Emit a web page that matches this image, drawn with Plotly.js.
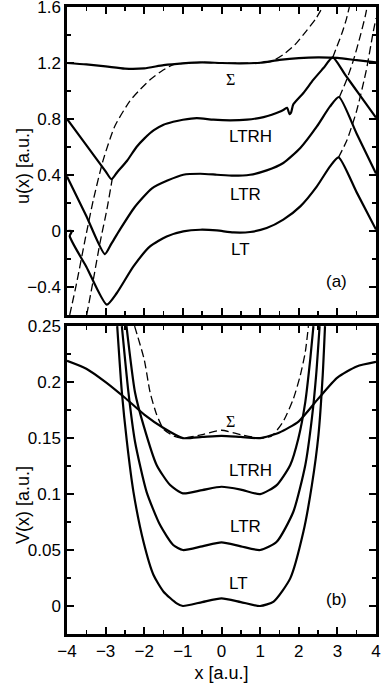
<!DOCTYPE html>
<html>
<head>
<meta charset="utf-8">
<script src="https://cdn.plot.ly/plotly-3.0.1.min.js"></script>
<style>
  html, body { margin: 0; padding: 0; background: #fff; }
  #wrap { position: relative; width: 382px; height: 683px; }
  .pa { position: absolute; left: 0; top: 0; width: 382px; height: 321px; }
  .pb { position: absolute; left: 0; top: 315px; width: 382px; height: 368px; }
</style>
</head>
<body>
<div id="wrap">
  <div id="panelA" class="pa"></div>
  <div id="panelB" class="pb"></div>
  <div id="frameA" class="pa"></div>
  <div id="frameB" class="pb"></div>
</div>
<script>
// ---- panel (a): u(x) ----
const uSigmaX = [-4, -3.5, -3, -2.5, -2, -1.5, -1, -0.5, 0, 0.5, 1, 1.5, 2, 2.5, 3, 3.5, 4];
const uSigmaY = [1.20, 1.19, 1.176, 1.16, 1.162, 1.185, 1.198, 1.205, 1.2, 1.198, 1.202, 1.222, 1.235, 1.24, 1.236, 1.22, 1.205];

const uSigmaDashX = [-3.93, -3.75, -3.53, -3.32, -3.06, -2.76, -2.37, -2.11, -1.85, -1.51, -1.25, -1.0, -0.5, 0, 0.5, 1.0, 1.3, 1.6, 1.9, 2.2, 2.45, 2.62];
const uSigmaDashY = [-0.6, -0.37, -0.06, 0.22, 0.51, 0.75, 0.93, 1.01, 1.08, 1.15, 1.188, 1.198, 1.205, 1.2, 1.198, 1.202, 1.212, 1.26, 1.33, 1.43, 1.52, 1.6];

const uLtrhX = [-4, -3.5, -3.0, -2.85, -2.7, -2.45, -2.2, -2.0, -1.75, -1.5, -1.25, -1.0, -0.64, -0.21, 0.22, 0.66, 1.09, 1.3, 1.52, 1.62, 1.7, 1.76, 1.8, 1.86, 2.12, 2.38, 2.64, 2.88, 3.2, 3.6, 4];
const uLtrhY = [0.8, 0.613, 0.426, 0.37, 0.42, 0.5, 0.6, 0.66, 0.72, 0.759, 0.78, 0.795, 0.807, 0.795, 0.79, 0.795, 0.814, 0.83, 0.854, 0.868, 0.88, 0.835, 0.845, 0.905, 0.986, 1.081, 1.164, 1.24, 1.117, 0.963, 0.81];

const uLtrX = [-4, -3.5, -3.02, -2.85, -2.63, -2.25, -1.8, -1.4, -0.99, -0.55, -0.12, 0.31, 0.74, 1.17, 1.6, 2.04, 2.47, 2.81, 3.04, 3.5, 4];
const uLtrY = [0.39, 0.107, -0.165, -0.09, 0.01, 0.17, 0.305, 0.36, 0.402, 0.409, 0.402, 0.395, 0.402, 0.433, 0.486, 0.593, 0.747, 0.89, 0.957, 0.695, 0.41];

const uLtX = [-4, -3.87, -3.93, -3.5, -2.97, -2.71, -2.28, -1.85, -1.42, -0.99, -0.55, -0.12, 0.31, 0.74, 1.17, 1.6, 2.04, 2.47, 2.81, 3.03, 3.5, 4];
const uLtY = [0, 0, -0.035, -0.255, -0.526, -0.443, -0.253, -0.11, -0.039, -0.003, 0.009, 0.004, -0.01, -0.007, 0.021, 0.081, 0.176, 0.319, 0.462, 0.526, 0.276, 0.01];

// dashed continuations of the cubic parts
const uLtrhDashLX = [-3.49, -3.32, -3.15, -2.97, -2.83];
const uLtrhDashLY = [-0.6, -0.35, -0.09, 0.15, 0.37];
const uLtrhDashRX = [2.88, 2.99, 3.12, 3.23, 3.31];
const uLtrhDashRY = [1.24, 1.319, 1.414, 1.51, 1.6];
const uLtrDashRX = [3.05, 3.24, 3.42, 3.59, 3.72, 3.77];
const uLtrDashRY = [0.955, 1.08, 1.224, 1.39, 1.533, 1.6];
const uLtDashRX = [3.03, 3.25, 3.5, 3.75, 3.92, 4];
const uLtDashRY = [0.526, 0.65, 0.86, 1.15, 1.41, 1.52];

// ---- panel (b): V(x) ----
const vSigmaX = [-4, -3.5, -3, -2.5, -2, -1.5, -1, -0.5, 0, 0.5, 1, 1.5, 2, 2.5, 3, 3.5, 4];
const vSigmaY = [0.219, 0.212, 0.2, 0.186, 0.171, 0.159, 0.150, 0.151, 0.152, 0.151, 0.150, 0.155, 0.165, 0.185, 0.204, 0.214, 0.218];

const vSigmaDashX = [-2.25, -2.0, -1.85, -1.68, -1.5, -1.25, -1.0, -0.5, 0, 0.5, 1.0, 1.3, 1.6, 1.86, 2.04, 2.17, 2.25];
const vSigmaDashY = [0.25, 0.22, 0.191, 0.171, 0.158, 0.152, 0.150, 0.153, 0.157, 0.153, 0.150, 0.152, 0.165, 0.185, 0.206, 0.227, 0.25];

const vLtX = [-2.70, -2.58, -2.45, -2.28, -2.02, -1.76, -1.5, -1.16, -1.0, -0.5, 0, 0.5, 1.0, 1.35, 1.78, 2.12, 2.34, 2.51, 2.62, 2.68];
const vLtY = [0.25, 0.191, 0.147, 0.102, 0.0574, 0.0277, 0.0128, 0.0024, 0, 0.0035, 0.0068, 0.0035, 0, 0.004, 0.0247, 0.0663, 0.108, 0.1527, 0.206, 0.25];

const vLtrX = [-2.58, -2.41, -2.24, -1.94, -1.59, -1.25, -1.0, -0.5, 0, 0.5, 1.0, 1.43, 1.86, 2.17, 2.34, 2.45, 2.54];
const vLtrY = [0.25, 0.191, 0.147, 0.102, 0.0723, 0.0545, 0.05, 0.0533, 0.0568, 0.0533, 0.05, 0.0574, 0.0842, 0.126, 0.1676, 0.206, 0.25];

const vLtrhX = [-2.46, -2.24, -2.02, -1.68, -1.33, -1.0, -0.5, 0, 0.5, 1.0, 1.43, 1.78, 1.99, 2.17, 2.3, 2.38];
const vLtrhY = [0.25, 0.191, 0.1616, 0.126, 0.108, 0.1006, 0.1035, 0.1065, 0.104, 0.1, 0.108, 0.126, 0.1497, 0.1824, 0.2211, 0.25];

// curve labels
const labelText = ['\u03A3', 'LTRH', 'LTR', 'LT'];
const labelXA = [0.22, 0.74, 0.61, 0.48];
const labelYA = [1.08, 0.673, 0.26, -0.134];
const labelXB = [0.22, 0.74, 0.61, 0.43];
const labelYB = [0.1646, 0.1214, 0.0708, 0.0203];

const FONT = 'Liberation Sans, Arial, Helvetica, sans-serif';
const SERIF = 'Liberation Serif, Times New Roman, serif';

function solid(x, y) {
  return {
    x: x, y: y, type: 'scatter', mode: 'lines', showlegend: false,
    line: { color: '#000', width: 2.2, shape: 'spline', smoothing: 0.6 }
  };
}

function dashed(x, y) {
  return {
    x: x, y: y, type: 'scatter', mode: 'lines', showlegend: false,
    line: { color: '#000', width: 1.3, dash: '8px,4px', shape: 'spline', smoothing: 0.6 }
  };
}

// boxed frame; tick labels come from these axes
function axisStyle(extra) {
  return Object.assign({
    showline: true, linewidth: 2.5, linecolor: '#000', mirror: 'ticks',
    ticks: 'inside', ticklen: 7, tickwidth: 1.5, tickcolor: '#000',
    showgrid: false, zeroline: false,
    ticklabeloverflow: 'allow',
    tickfont: { family: FONT, size: 17, color: '#000' }
  }, extra);
}

function curveLabels(xs, ys) {
  return labelText.map((t, i) => ({
    text: t, x: xs[i], y: ys[i], xref: 'x', yref: 'y', showarrow: false,
    font: i === 0 ? { family: SERIF, size: 16, color: '#000' } : { family: FONT, size: 17, color: '#000' }
  }));
}

// panel (a)
const annA = curveLabels(labelXA, labelYA);
annA.push({ text: '(a)', x: 2.97, y: -0.362, xref: 'x', yref: 'y', showarrow: false, font: { family: FONT, size: 17, color: '#000' } });
annA.push({ text: 'u(x) [a.u.]', textangle: -90, x: -0.181, y: 0.484, xref: 'paper', yref: 'paper', showarrow: false, font: { family: FONT, size: 18, color: '#000' } });

const marginA = { l: 67, r: 6, t: 7, b: 6 };
const layoutA = {
  width: 382, height: 321, margin: marginA,
  paper_bgcolor: 'rgba(0,0,0,0)', plot_bgcolor: 'rgba(0,0,0,0)',
  xaxis: axisStyle({ range: [-4, 4], dtick: 1, tick0: 0, showticklabels: false }),
  yaxis: axisStyle({ range: [-0.6, 1.6001], dtick: 0.4, tick0: 0 }),
  annotations: annA
};

const tracesA = [
  dashed(uSigmaDashX, uSigmaDashY),
  dashed(uLtrhDashLX, uLtrhDashLY),
  dashed(uLtrhDashRX, uLtrhDashRY),
  dashed(uLtrDashRX, uLtrDashRY),
  dashed(uLtDashRX, uLtDashRY),
  solid(uSigmaX, uSigmaY),
  solid(uLtrhX, uLtrhY),
  solid(uLtrX, uLtrY),
  solid(uLtX, uLtY)
];

// panel (b)
const annB = curveLabels(labelXB, labelYB);
annB.push({ text: '(b)', x: 2.99, y: 0.0054, xref: 'x', yref: 'y', showarrow: false, font: { family: FONT, size: 17, color: '#000' } });
annB.push({ text: 'V(x) [a.u.]', textangle: -90, x: -0.181, y: 0.419, xref: 'paper', yref: 'paper', showarrow: false, font: { family: FONT, size: 18, color: '#000' } });

const marginB = { l: 67, r: 6, t: 11, b: 49 };
const layoutB = {
  width: 382, height: 368, margin: marginB,
  paper_bgcolor: 'rgba(0,0,0,0)', plot_bgcolor: 'rgba(0,0,0,0)',
  xaxis: axisStyle({
    range: [-4, 4], dtick: 1, tick0: 0,
    title: { text: 'x [a.u.]', font: { family: FONT, size: 18, color: '#000' }, standoff: 9 }
  }),
  yaxis: axisStyle({ range: [-0.025, 0.2501], dtick: 0.05, tick0: 0 }),
  annotations: annB
};

const tracesB = [
  dashed(vSigmaDashX, vSigmaDashY),
  solid(vSigmaX, vSigmaY),
  solid(vLtrhX, vLtrhY),
  solid(vLtrX, vLtrY),
  solid(vLtX, vLtY)
];

// Tick-mark overlays: a bare single-trace plot per panel with the same plot
// area, whose axes only carry the inside major/minor tick marks. The axis
// spans are shifted to start at zero (x: -4..4 -> 0..8) and are set by
// autorange from one transparent trace (lines: x tight, y padded 5 %).
function frame(id, height, margin, ySpan, yMajor, yMajor0, yMinor) {
  const pad = 0.05 * ySpan;
  const tickAxis = {
    showline: true, linewidth: 2.5, linecolor: '#000', mirror: 'ticks',
    ticks: 'inside', ticklen: 7, tickwidth: 1.5, tickcolor: '#000',
    showgrid: false, zeroline: false, showticklabels: false
  };
  Plotly.newPlot(id, [{
    x: [0, 8], y: [pad, ySpan - pad], type: 'scatter', mode: 'lines',
    line: { color: 'rgba(0,0,0,0)', width: 0 }, hoverinfo: 'skip'
  }], {
    width: 382, height: height, margin: margin,
    paper_bgcolor: 'rgba(0,0,0,0)', plot_bgcolor: 'rgba(0,0,0,0)',
    xaxis: Object.assign({}, tickAxis, {
      dtick: 1, tick0: 0,
      minor: { dtick: 0.5, ticks: 'inside', ticklen: 4, tickwidth: 1.5, tickcolor: '#000' }
    }),
    yaxis: Object.assign({}, tickAxis, {
      dtick: yMajor, tick0: yMajor0,
      minor: { dtick: yMinor, ticks: 'inside', ticklen: 4, tickwidth: 1.5, tickcolor: '#000' }
    })
  }, { displayModeBar: false, staticPlot: true });
}

const config = { displayModeBar: false };
Plotly.newPlot('panelA', tracesA, layoutA, config);
Plotly.newPlot('panelB', tracesB, layoutB, config);
// (a): -0.6..1.6 -> 0..2.2, majors at -0.4, 0, ... -> 0.2, 0.6, ...
frame('frameA', 321, marginA, 2.2, 0.4, 0.2, 0.2);
// (b): -0.025..0.25 -> 0..0.275, majors at 0, 0.05, ... -> 0.025, 0.075, ...
frame('frameB', 368, marginB, 0.275, 0.05, 0.025, 0.025);
</script>
</body>
</html>
